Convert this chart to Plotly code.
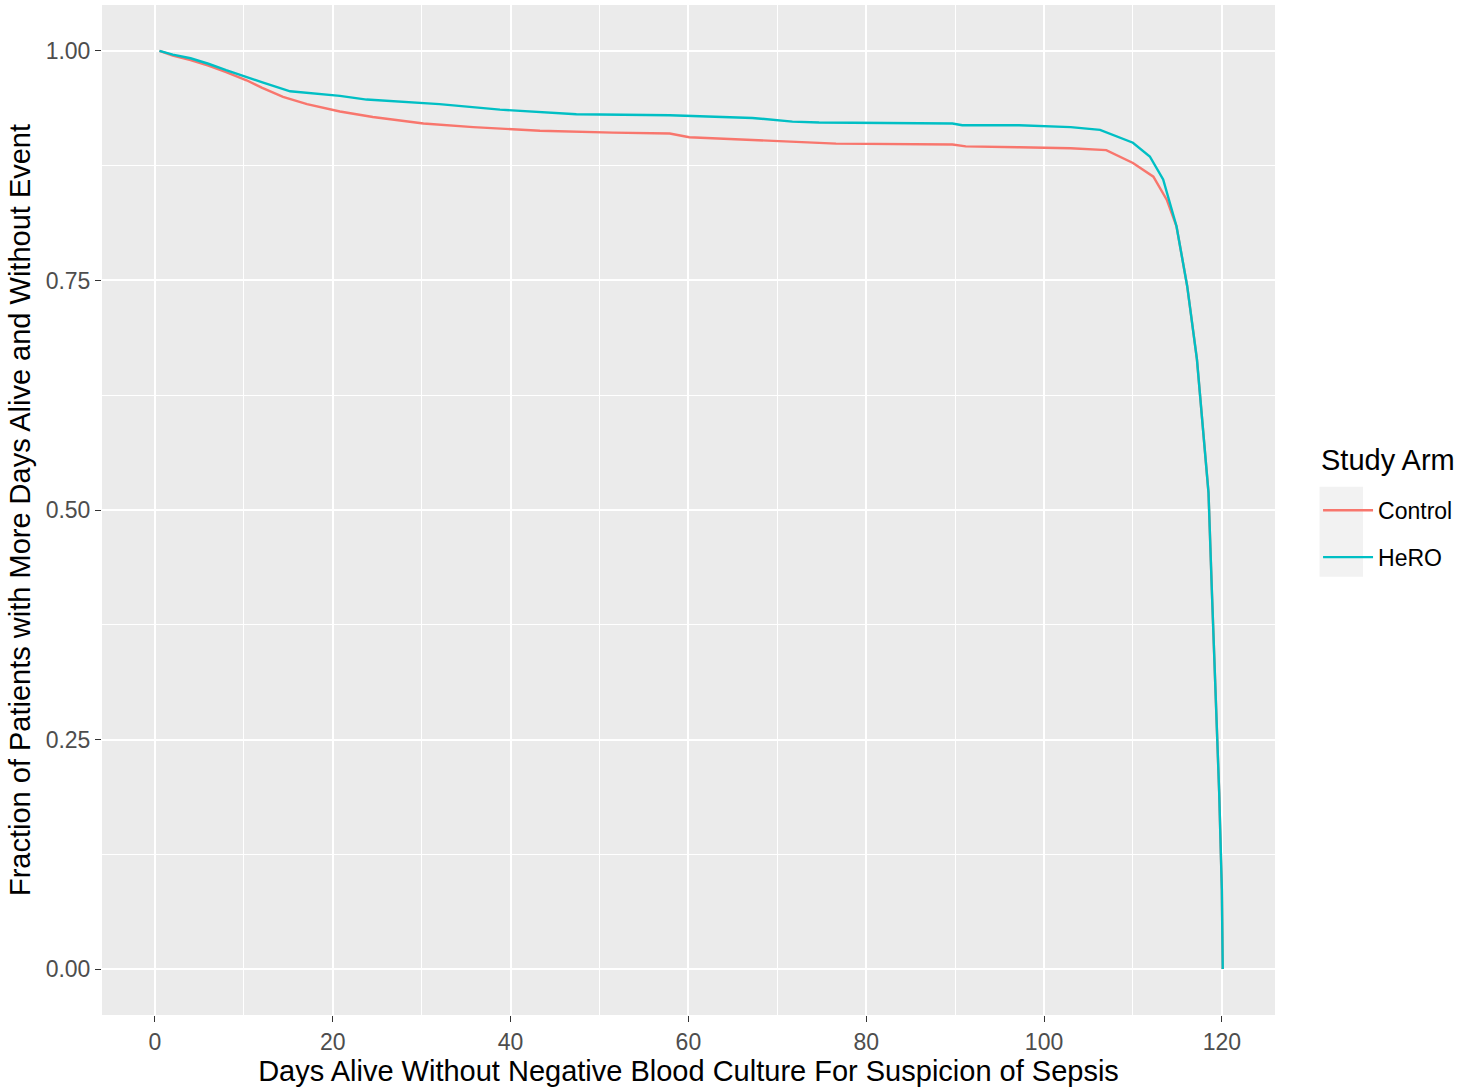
import plotly.graph_objects as go

# ---- data ----
control_days = [0.5, 2, 4, 6, 8, 10.3, 12, 14.4, 17.1, 20.8, 24.5, 30.2, 35.8, 43.3, 51.5,
                57.9, 60.1, 67.2, 72.8, 76.6, 89.7, 91.2, 97.2, 103, 107, 110, 112.3, 113.8,
                114.9, 116.1, 117.2, 118.0, 118.5, 118.9, 119.3, 119.7, 120.0, 120.1]
control_frac = [1.0, 0.995, 0.99, 0.984, 0.977, 0.968, 0.96, 0.950, 0.942, 0.934, 0.928, 0.921,
                0.917, 0.913, 0.911, 0.910, 0.906, 0.903, 0.901, 0.899, 0.898, 0.896, 0.895,
                0.894, 0.892, 0.878, 0.863, 0.838, 0.809, 0.744, 0.664, 0.569, 0.519, 0.406,
                0.301, 0.193, 0.087, 0.0]

hero_days = [0.5, 2, 4, 6, 8, 10.3, 12, 15.2, 20.8, 23.8, 32, 38.8, 43.3, 47.4, 57.9, 60.9,
             67.2, 71.7, 74.7, 89.7, 90.8, 97.2, 103, 106.3, 110, 111.9, 113.4, 114.9, 116.1,
             117.2, 118.0, 118.5, 118.9, 119.3, 119.7, 120.0, 120.1]
hero_frac = [1.0, 0.996, 0.992, 0.986, 0.979, 0.972, 0.966, 0.956, 0.951, 0.947, 0.942, 0.936,
             0.933, 0.931, 0.930, 0.929, 0.927, 0.923, 0.922, 0.921, 0.919, 0.919, 0.917, 0.914,
             0.900, 0.885, 0.860, 0.809, 0.744, 0.664, 0.569, 0.519, 0.406, 0.301, 0.193,
             0.087, 0.0]

series_names = ["Control", "HeRO"]
series_colors = ["#F8766D", "#00BFC4"]
legend_title = "Study Arm"
x_ticks = [0, 20, 40, 60, 80, 100, 120]
y_ticks = [0.0, 0.25, 0.5, 0.75, 1.0]
y_tick_text = ["0.00", "0.25", "0.50", "0.75", "1.00"]

FONT = "Liberation Sans, Arial, sans-serif"

fig = go.Figure()
for name, xs, ys, col in zip(series_names, [control_days, hero_days],
                             [control_frac, hero_frac], series_colors):
    fig.add_trace(go.Scatter(x=xs, y=ys, mode="lines", name=name, legendgroup=name,
                             line=dict(color=col, width=2.4)))

axis_common = dict(
    showline=False, zeroline=False, automargin=False,
    showgrid=True, gridcolor="white", gridwidth=2.2,
    ticks="outside", ticklen=6, tickwidth=1.4, tickcolor="#333333",
    tickfont=dict(family=FONT, size=23, color="#4D4D4D"),
)

# light legend key background, as in ggplot
fig.add_shape(type="rect", xref="paper", yref="paper",
              x0=1.038, x1=1.075, y0=0.434, y1=0.523,
              fillcolor="#F2F2F2", line=dict(width=0), layer="below")

# legend title as annotation
fig.add_annotation(text=legend_title, xref="paper", yref="paper",
                   x=1.0375, y=0.5495, xanchor="left", yanchor="middle",
                   showarrow=False, font=dict(family=FONT, size=29, color="black"))

fig.update_layout(
    width=1474, height=1088,
    paper_bgcolor="white", plot_bgcolor="#EBEBEB",
    margin=dict(l=102, r=199, t=5, b=73),
    font=dict(family=FONT),
    xaxis=dict(
        **axis_common,
        range=[-5.96, 125.98],
        tickvals=x_ticks,
        minor=dict(tickvals=[10, 30, 50, 70, 90, 110], showgrid=True,
                   gridcolor="white", gridwidth=1.1, ticks=""),
        title=dict(text="Days Alive Without Negative Blood Culture For Suspicion of Sepsis",
                   font=dict(family=FONT, size=29, color="black"), standoff=4),
    ),
    yaxis=dict(
        **axis_common,
        range=[-0.05, 1.05],
        tickvals=y_ticks, ticktext=y_tick_text,
        minor=dict(tickvals=[0.125, 0.375, 0.625, 0.875], showgrid=True,
                   gridcolor="white", gridwidth=1.1, ticks=""),
        title=dict(text="Fraction of Patients with More Days Alive and Without Event",
                   font=dict(family=FONT, size=29, color="black"), standoff=6),
    ),
    legend=dict(
        x=1.0367, y=0.521, xanchor="left", yanchor="top",
        bgcolor="rgba(0,0,0,0)",
        font=dict(family=FONT, size=23, color="black"),
        tracegroupgap=14, itemwidth=50,
    ),
    showlegend=True,
)

fig.write_html("out.html", config={"displayModeBar": False},
               post_script="document.body.style.margin='0';")
